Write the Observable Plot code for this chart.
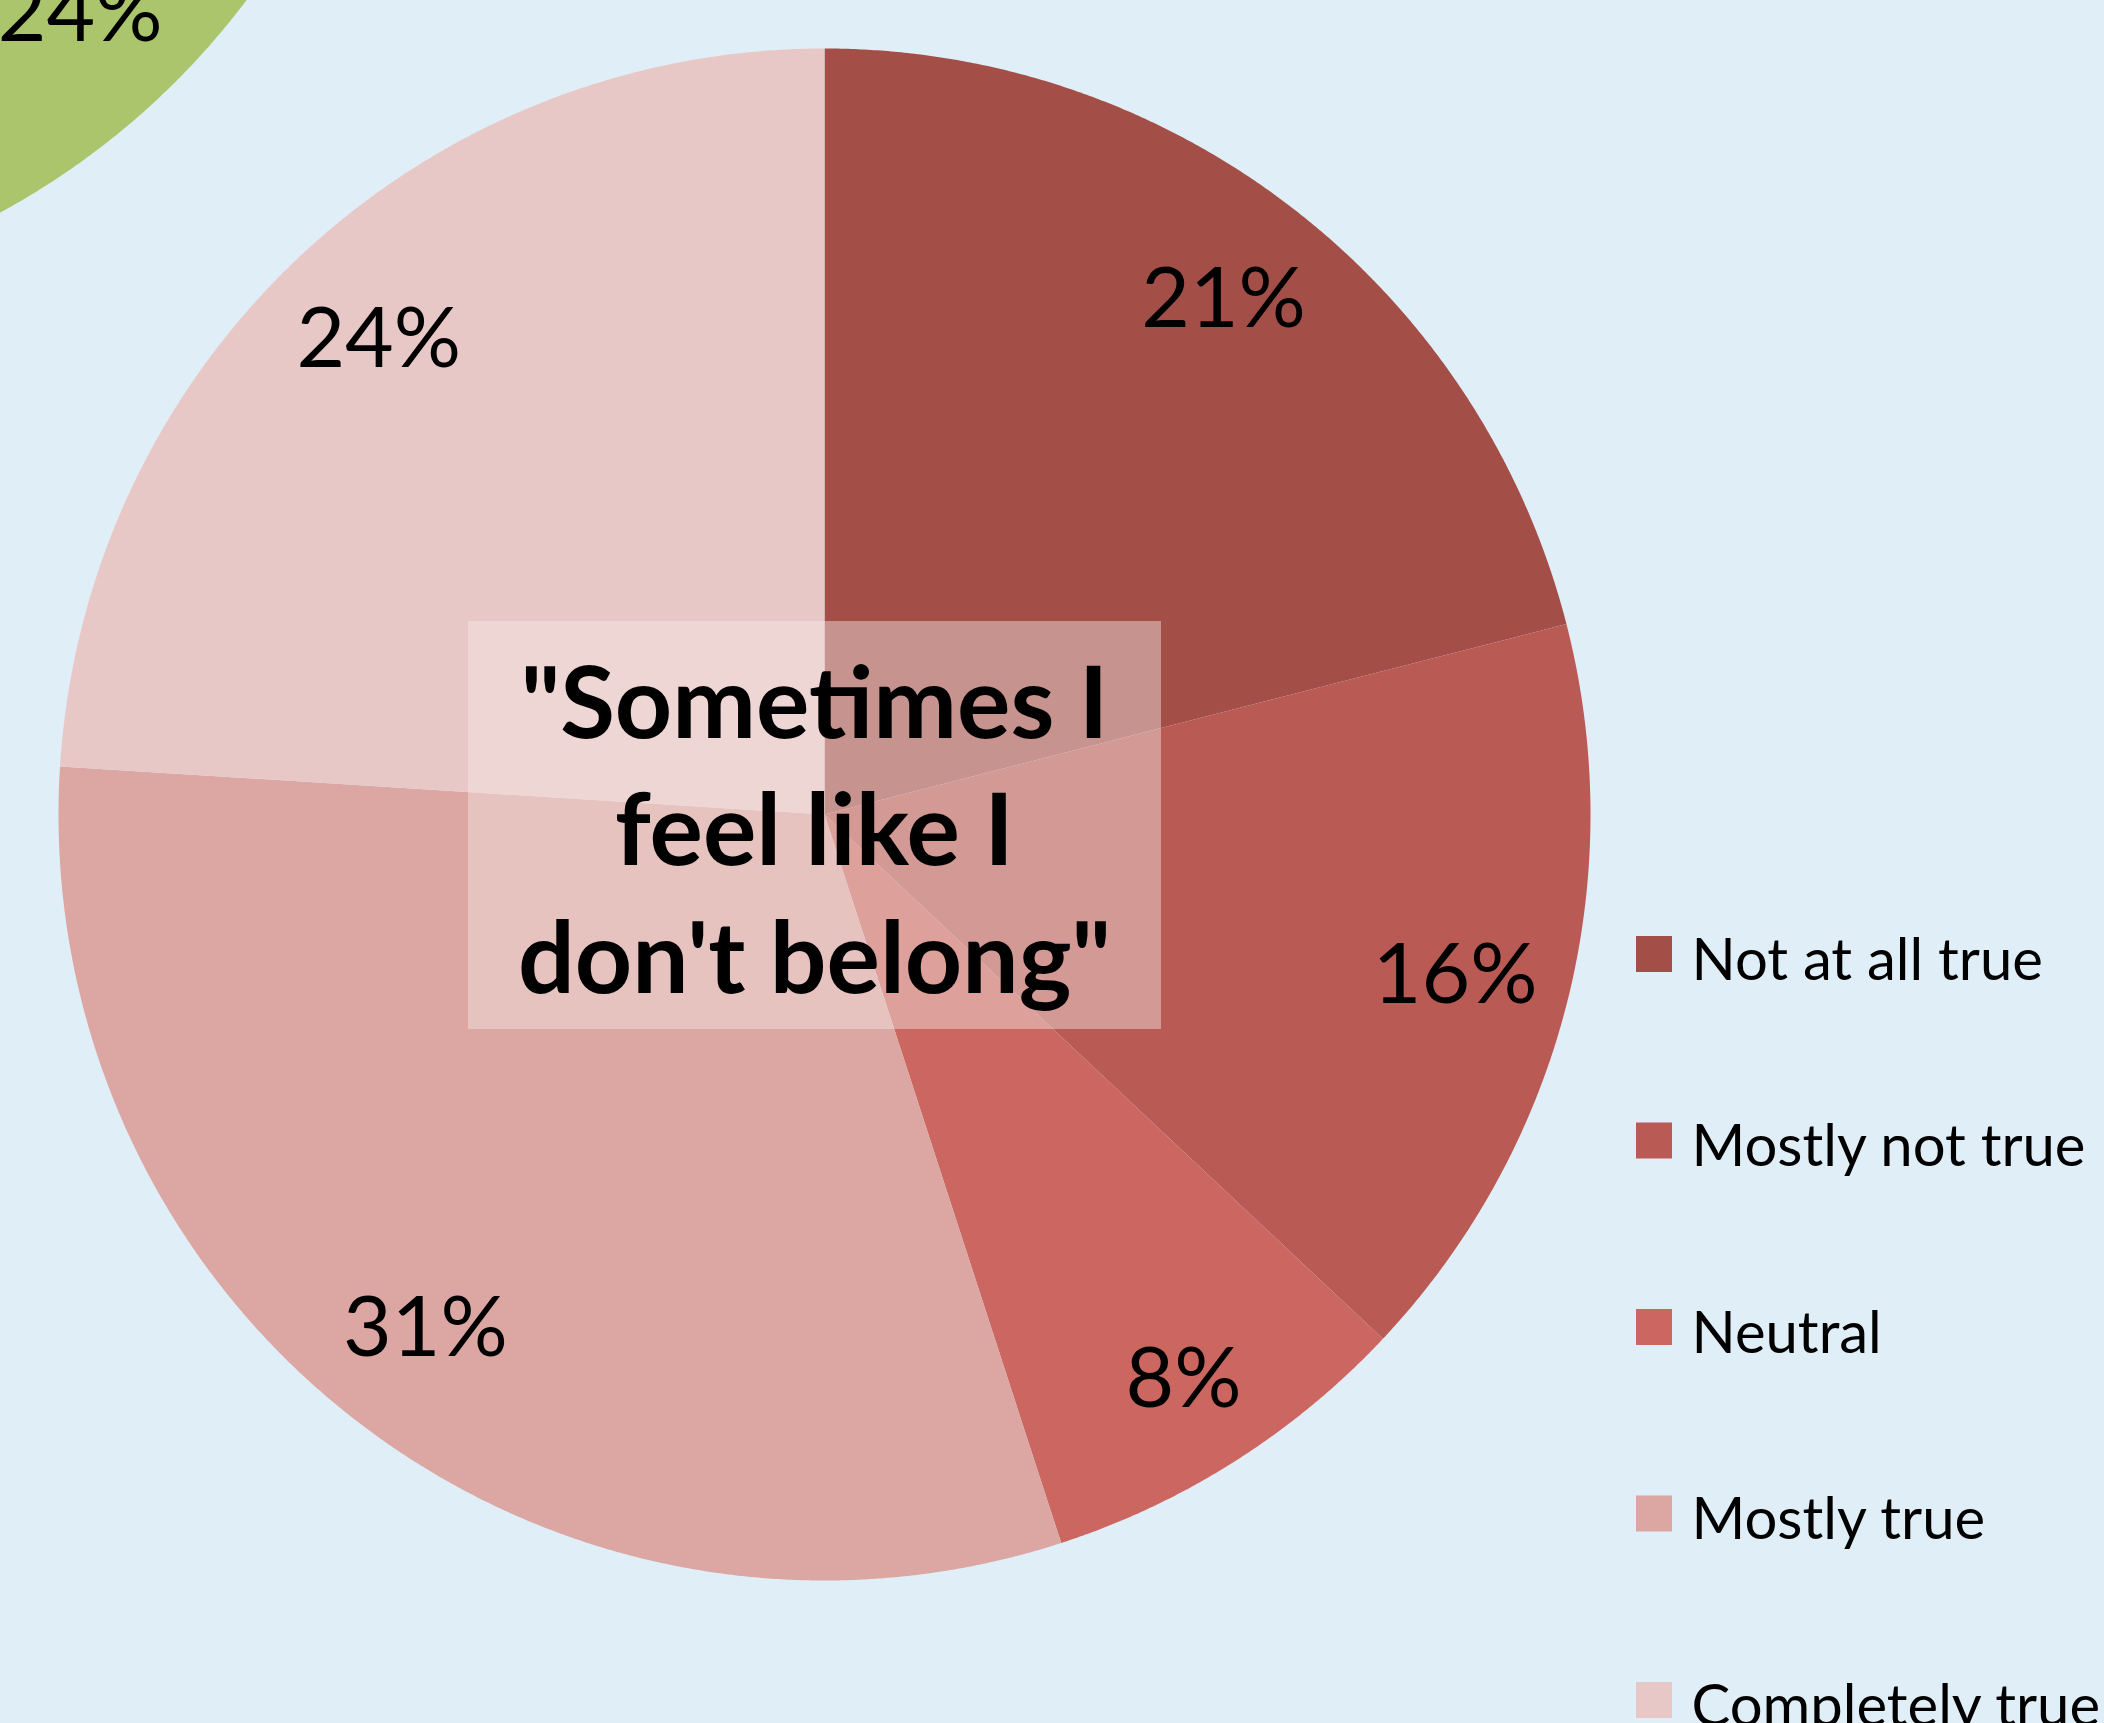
<!DOCTYPE html>
<html><head><meta charset="utf-8">
<script src="https://cdn.jsdelivr.net/npm/d3@7"></script>
<script src="https://cdn.jsdelivr.net/npm/@observablehq/plot@0.6"></script>
<style>
html,body{margin:0;padding:0;background:#E0EFF7;overflow:hidden;}
#chart svg{display:block;}
</style></head><body><div id="chart"></div>
<script>
// ---- data ----
const categories = ["Not at all true", "Mostly not true", "Neutral", "Mostly true", "Completely true"];
const values = [21, 16, 8, 31, 24];
const colors = ["#A34F48", "#B95A55", "#CC6660", "#DCA6A3", "#E8C8C7"];
const titleLines = ['"Sometimes I', 'feel like I', 'don\'t belong"'];
// partially visible neighbouring chart (only its green slice shows)
const otherStart = [26];
const otherValues = [24];
const otherColor = "#ABC56C";

// ---- layout ----
const W = 2104, H = 1723, R = 766, CX = 824, CY = 814;
const OCX = -366, OCY = -461; // neighbour chart centre (px)
const ux = px => (px - CX) / R, uy = py => (CY - py) / R;

function slicePoints(cx, cy, a0, a1, key) {
  const pts = [{x: cx, y: cy, key}];
  const n = Math.max(4, Math.ceil((a1 - a0) / (Math.PI / 720)));
  for (let k = 0; k <= n; k++) {
    const a = a0 + (a1 - a0) * k / n;
    pts.push({x: cx + Math.sin(a), y: cy + Math.cos(a), key});
  }
  pts.push({x: cx, y: cy, key});
  return pts;
}

const rows = categories.map((c, i) => ({category: c, value: values[i]}));
const arcs = d3.pie().sort(null).value(d => d.value)(rows);
const slicePts = arcs.flatMap(a => slicePoints(0, 0, a.startAngle, a.endAngle, a.data.category));
const labelR = a => (a.endAngle - a.startAngle) < 0.6 ? 0.875 : 0.85;
const labels = arcs.map(a => {
  const m = (a.startAngle + a.endAngle) / 2;
  const r = labelR(a);
  return {x: r * Math.sin(m), y: r * Math.cos(m), text: a.data.value + "%"};
});

const ocx = ux(OCX), ocy = uy(OCY);
const otherArcs = otherValues.map((v, i) => {
  const a0 = otherStart[i] / 100 * 2 * Math.PI, a1 = (otherStart[i] + v) / 100 * 2 * Math.PI;
  return {a0, a1, v};
});
const otherPts = otherArcs.flatMap((o, i) => slicePoints(ocx, ocy, o.a0, o.a1, "o" + i));
const otherLabels = otherArcs.map(o => {
  const m = (o.a0 + o.a1) / 2;
  return {x: ocx + 0.85 * Math.sin(m), y: ocy + 0.85 * Math.cos(m), text: o.v + "%"};
});

const rowY = i => 954 + i * 186.5;

const plot = Plot.plot({
  width: W, height: H,
  marginTop: 0, marginRight: 0, marginBottom: 0, marginLeft: 0,
  style: {background: "#E0EFF7", fontFamily: "Lato, sans-serif", overflow: "hidden"},
  x: {type: "linear", domain: [ux(0), ux(W)], axis: null},
  y: {type: "linear", domain: [uy(H), uy(0)], axis: null},
  color: {domain: categories, range: colors},
  marks: [
    Plot.line(otherPts, {x: "x", y: "y", z: "key", fill: otherColor, stroke: "none", clip: true}),
    Plot.text(otherLabels, {x: "x", y: "y", text: "text", fontSize: 84, fill: "black", fontFamily: "Lato", clip: true}),
    Plot.line(slicePts, {x: "x", y: "y", z: "key", fill: "key", stroke: "none"}),
    Plot.text(labels, {x: "x", y: "y", text: "text", fontSize: 84, fill: "black", fontFamily: "Lato"}),
    Plot.rect([0], {x1: () => ux(468), x2: () => ux(1161), y1: () => uy(1029), y2: () => uy(621),
      fill: "#F3E6E5", fillOpacity: 0.45}),
    Plot.text(titleLines, {x: () => ux(814), y: (d, i) => uy(737 + i * 127.5), text: d => d,
      fontSize: 100, fontWeight: "bold", fontFamily: "Lato", fill: "black", lineAnchor: "bottom"}),
    Plot.rect(categories, {x1: () => ux(1636), x2: () => ux(1672),
      y1: (d, i) => uy(rowY(i) + 18), y2: (d, i) => uy(rowY(i) - 18), fill: d => d}),
    Plot.text(categories, {x: () => ux(1691), y: (d, i) => uy(rowY(i) + 25), text: d => d,
      fontSize: 58, fontFamily: "Lato", fill: "black", textAnchor: "start", lineAnchor: "bottom"})
  ]
});
document.getElementById("chart").appendChild(plot);
</script></body></html>
